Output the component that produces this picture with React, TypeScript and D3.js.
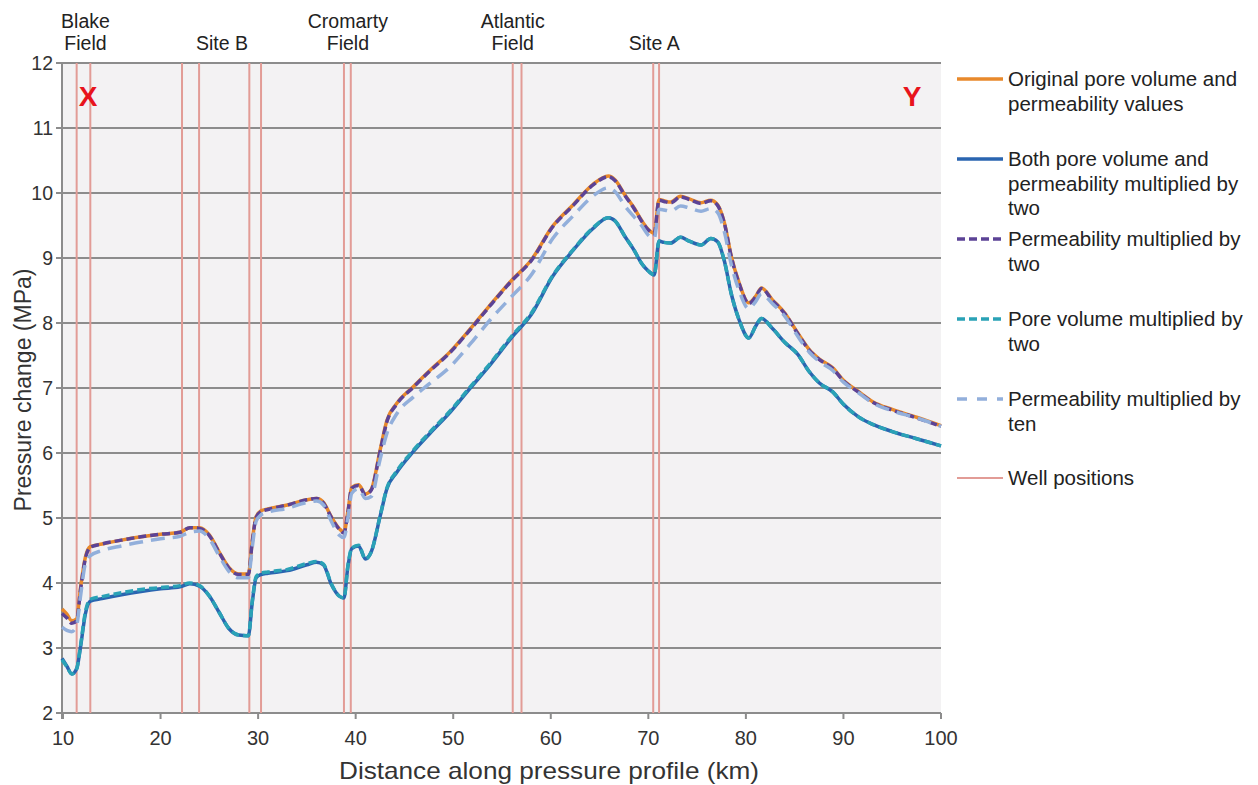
import React from "react";
import * as d3 from "d3";

const km = [9.9, 10.4, 10.9, 11.4, 11.8, 12.3, 12.8, 14, 16, 18, 20, 22, 23, 24, 25, 26, 27, 28, 29, 29.4, 29.8, 30.3, 31, 33, 35, 36, 36.7, 37.5, 38.3, 38.8, 39.2, 39.6, 40.3, 41.0, 41.6, 42.5, 43.2, 44.2, 45.9, 47.6, 49.7, 51.7, 53.8, 56.0, 58.0, 60.2, 62.3, 64.3, 65.9, 66.6, 67.6, 68.5, 69.3, 70.0, 70.6, 71.1, 71.6, 72.3, 73.3, 74.2, 75.4, 76.4, 77.1, 77.8, 78.5, 79.3, 80.3, 81.0, 81.6, 82.7, 84.0, 85.3, 86.5, 87.5, 88.9, 90.0, 91.5, 93.0, 95.0, 97.5, 100];

const original = [3.6, 3.52, 3.42, 3.45, 3.93, 4.4, 4.56, 4.6, 4.66, 4.71, 4.75, 4.78, 4.85, 4.85, 4.74, 4.48, 4.24, 4.14, 4.14, 4.65, 5.02, 5.11, 5.14, 5.2, 5.28, 5.3, 5.24, 5.02, 4.84, 4.78, 5.1, 5.47, 5.51, 5.37, 5.44, 6.04, 6.5, 6.76, 7.02, 7.27, 7.56, 7.9, 8.28, 8.66, 8.97, 9.49, 9.82, 10.13, 10.26, 10.2, 9.97, 9.78, 9.58, 9.44, 9.38, 9.9, 9.88, 9.86, 9.95, 9.91, 9.85, 9.89, 9.82, 9.54, 9.03, 8.62, 8.31, 8.41, 8.54, 8.36, 8.15, 7.85, 7.59, 7.45, 7.31, 7.12, 6.95, 6.79, 6.67, 6.55, 6.42];

const permTwo = [3.53, 3.46, 3.38, 3.42, 3.9, 4.38, 4.55, 4.6, 4.66, 4.71, 4.75, 4.78, 4.85, 4.84, 4.73, 4.47, 4.23, 4.13, 4.13, 4.63, 5.01, 5.1, 5.13, 5.2, 5.28, 5.3, 5.23, 5.01, 4.83, 4.77, 5.08, 5.46, 5.5, 5.36, 5.43, 6.02, 6.48, 6.75, 7.01, 7.26, 7.55, 7.89, 8.27, 8.65, 8.96, 9.48, 9.81, 10.12, 10.25, 10.19, 9.96, 9.77, 9.57, 9.43, 9.37, 9.89, 9.87, 9.85, 9.94, 9.9, 9.84, 9.88, 9.81, 9.53, 9.02, 8.61, 8.3, 8.4, 8.53, 8.35, 8.14, 7.84, 7.58, 7.44, 7.3, 7.11, 6.94, 6.78, 6.66, 6.54, 6.41];

const permTen = [3.32, 3.27, 3.25, 3.35, 3.8, 4.3, 4.42, 4.5, 4.57, 4.63, 4.68, 4.72, 4.78, 4.8, 4.68, 4.42, 4.18, 4.08, 4.08, 4.55, 4.95, 5.05, 5.09, 5.15, 5.24, 5.26, 5.2, 4.95, 4.74, 4.7, 5.0, 5.38, 5.45, 5.3, 5.33, 5.9, 6.3, 6.6, 6.86, 7.07, 7.33, 7.67, 8.05, 8.41, 8.74, 9.3, 9.65, 9.95, 10.08, 10.02, 9.8, 9.64, 9.5, 9.35, 9.3, 9.75, 9.74, 9.72, 9.8, 9.77, 9.72, 9.76, 9.7, 9.4, 8.9, 8.5, 8.22, 8.33, 8.45, 8.3, 8.1, 7.8, 7.55, 7.41, 7.27, 7.09, 6.93, 6.77, 6.65, 6.54, 6.41];

const bothTwo = [2.84, 2.72, 2.6, 2.68, 3.02, 3.53, 3.72, 3.76, 3.82, 3.87, 3.91, 3.94, 3.99, 3.95, 3.8, 3.55, 3.3, 3.2, 3.19, 3.7, 4.08, 4.13, 4.15, 4.19, 4.28, 4.32, 4.28, 3.98, 3.8, 3.77, 4.25, 4.53, 4.57, 4.37, 4.48, 5.02, 5.45, 5.7, 6.02, 6.3, 6.63, 6.99, 7.36, 7.78, 8.13, 8.72, 9.12, 9.45, 9.62, 9.57, 9.33, 9.13, 8.92, 8.8, 8.74, 9.26, 9.24, 9.23, 9.32, 9.26, 9.2, 9.3, 9.25, 8.95, 8.45, 8.05, 7.77, 7.95, 8.07, 7.92, 7.7, 7.52, 7.25, 7.08, 6.94, 6.75, 6.56, 6.44, 6.33, 6.22, 6.11];

const poreTwo = [2.82, 2.71, 2.6, 2.68, 3.04, 3.56, 3.75, 3.79, 3.85, 3.9, 3.93, 3.96, 4.0, 3.96, 3.8, 3.55, 3.3, 3.2, 3.19, 3.72, 4.1, 4.15, 4.17, 4.21, 4.3, 4.33, 4.29, 3.99, 3.8, 3.77, 4.26, 4.54, 4.58, 4.37, 4.48, 5.03, 5.46, 5.72, 6.04, 6.32, 6.65, 7.01, 7.38, 7.8, 8.15, 8.73, 9.13, 9.46, 9.62, 9.57, 9.33, 9.13, 8.92, 8.8, 8.74, 9.26, 9.24, 9.23, 9.32, 9.26, 9.2, 9.3, 9.25, 8.95, 8.45, 8.05, 7.77, 7.95, 8.07, 7.92, 7.7, 7.52, 7.25, 7.08, 6.94, 6.75, 6.56, 6.44, 6.33, 6.22, 6.11];

const wells = [11.4, 12.8, 22.2, 23.95, 29.1, 30.3, 38.8, 39.5, 56.1, 57.0, 70.5, 71.1];
const xTicks = [10, 20, 30, 40, 50, 60, 70, 80, 90, 100];
const yTicks = [2, 3, 4, 5, 6, 7, 8, 9, 10, 11, 12];
const siteLabels = [
  { km: 12.3, lines: ["Blake", "Field"] },
  { km: 26.3, lines: ["Site B"] },
  { km: 39.2, lines: ["Cromarty", "Field"] },
  { km: 56.1, lines: ["Atlantic", "Field"] },
  { km: 70.6, lines: ["Site A"] },
];

const series = [
  { name: ["Original pore volume and", "permeability values"], data: original, color: "#e8892b", dash: "" },
  { name: ["Both pore volume and", "permeability multiplied by", "two"], data: bothTwo, color: "#2a65b0", dash: "" },
  { name: ["Permeability multiplied by", "two"], data: permTwo, color: "#5c4396", dash: "8,4" },
  { name: ["Pore volume multiplied by", "two"], data: poreTwo, color: "#2aa2b6", dash: "8,4" },
  { name: ["Permeability multiplied by", "ten"], data: permTen, color: "#92afdb", dash: "14,8" },
];
const drawOrder = [0, 2, 4, 1, 3];

export default function App() {
  const W = 1258, H = 785;
  const left = 62, right = 941, top = 63, bottom = 713;
  const x = d3.scaleLinear().domain([10, 100]).range([left + 1, right]);
  const y = d3.scaleLinear().domain([2, 12]).range([bottom, top]);
  const font = "'Liberation Sans', Arial, sans-serif";

  const line = (vals: number[]) =>
    d3.line<number>().x((_, i) => x(km[i])).y((v) => y(v)).curve(d3.curveMonotoneX)(vals) || "";

  const legendY = [79, 159, 239, 319, 399];

  return (
    <svg width={W} height={H} style={{ position: "absolute", left: 0, top: 0, background: "#fff" }}>
      <rect x={left} y={top} width={right - left} height={bottom - top} fill="#f3f2f3" />
      {yTicks.map((t) => (
        <g key={t}>
          <line x1={left - 6} x2={right} y1={y(t)} y2={y(t)} stroke="#8c8c8c" strokeWidth={2} />
          <text x={left - 9} y={y(t) + 7} textAnchor="end" fontFamily={font} fontSize={19.5} fill="#333">{t}</text>
        </g>
      ))}
      {xTicks.map((t) => (
        <g key={t}>
          <line x1={x(t)} x2={x(t)} y1={bottom} y2={bottom + 6} stroke="#8c8c8c" strokeWidth={2} />
          <text x={x(t)} y={bottom + 32} textAnchor="middle" fontFamily={font} fontSize={20} fill="#333">{t}</text>
        </g>
      ))}
      <line x1={left} x2={left} y1={top} y2={bottom + 6} stroke="#8c8c8c" strokeWidth={2} />
      {wells.map((w, i) => (
        <line key={i} x1={x(w)} x2={x(w)} y1={top} y2={bottom} stroke="#e29c96" strokeWidth={2} />
      ))}
      {drawOrder.map((si) => {
        const s = series[si];
        return (
          <path key={si} d={line(s.data)} fill="none" stroke={s.color} strokeWidth={3.5}
            strokeDasharray={s.dash || undefined} strokeLinejoin="round" />
        );
      })}
      <text x={88} y={106} textAnchor="middle" fontFamily={font} fontSize={28} fontWeight="bold" fill="#e8141c">X</text>
      <text x={912} y={106} textAnchor="middle" fontFamily={font} fontSize={28} fontWeight="bold" fill="#e8141c">Y</text>
      {siteLabels.map((s, i) => (
        <text key={i} textAnchor="middle" fontFamily={font} fontSize={19.5} fill="#222">
          {s.lines.map((l, j) => (
            <tspan key={j} x={x(s.km)} y={s.lines.length === 2 ? 28 + j * 22 : 50}>{l}</tspan>
          ))}
        </text>
      ))}
      <text x={549} y={779} textAnchor="middle" fontFamily={font} fontSize={24} textLength={420} lengthAdjust="spacingAndGlyphs" fill="#333">Distance along pressure profile (km)</text>
      <text transform={`translate(31, 390) rotate(-90)`} textAnchor="middle" fontFamily={font} fontSize={23} fill="#333">Pressure change (MPa)</text>
      {series.map((s, i) => (
        <g key={i}>
          <line x1={957} x2={1003} y1={legendY[i]} y2={legendY[i]} stroke={s.color} strokeWidth={3.5} strokeDasharray={s.dash ? (s.dash === "14,8" ? "10,10" : "8,4") : undefined} />
          <text fontFamily={font} fontSize={20.5} fill="#222">
            {s.name.map((l, j) => (
              <tspan key={j} x={1008} y={legendY[i] + 7 + j * 24.5}>{l}</tspan>
            ))}
          </text>
        </g>
      ))}
      <line x1={957} x2={1003} y1={478} y2={478} stroke="#e29c96" strokeWidth={2} />
      <text x={1008} y={485} fontFamily={font} fontSize={20.5} fill="#222">Well positions</text>
    </svg>
  );
}
